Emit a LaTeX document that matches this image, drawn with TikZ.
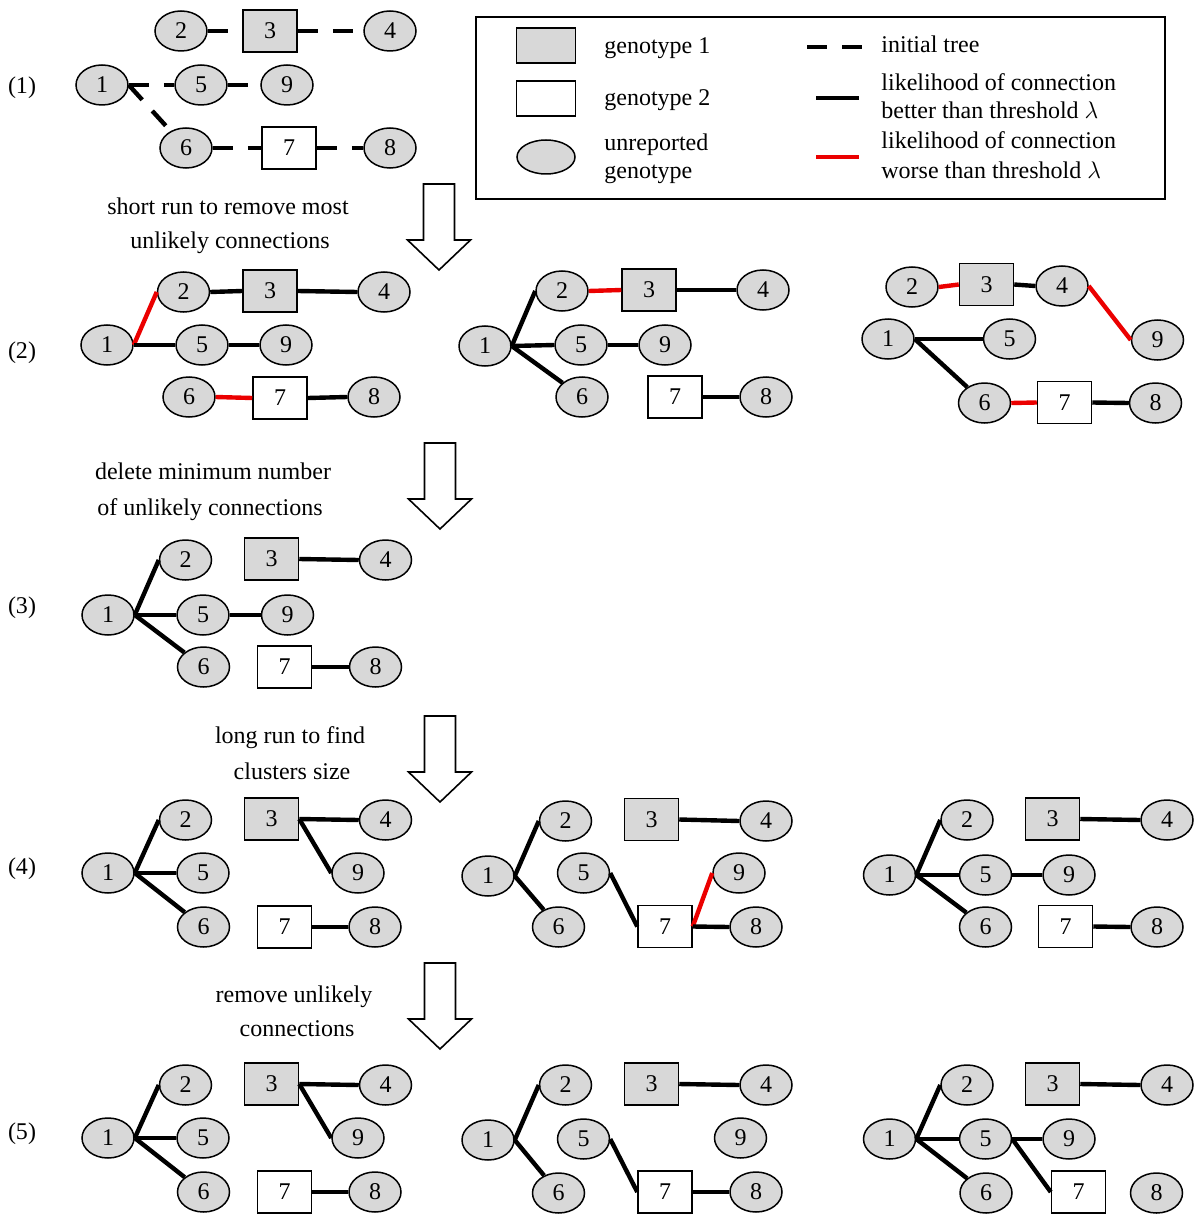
\documentclass[tikz,border=0pt]{standalone}
\usepackage{fontspec}
\setmainfont{Liberation Serif}
\usetikzlibrary{shapes.geometric}
\definecolor{nodegray}{RGB}{216,216,216}
\definecolor{edgered}{RGB}{235,0,0}
\newcommand\blockarrow[2]{\draw[arrowbox] (#1-15.5,#2) -- (#1+15.5,#2) -- (#1+15.5,#2+56) -- (#1+31.5,#2+56) -- (#1,#2+86) -- (#1-31.5,#2+56) -- (#1-15.5,#2+56) -- cycle;}
\begin{document}
\begin{tikzpicture}[x=0.5pt,y=-0.5pt,
  every node/.style={font=\fontsize{12}{14}\selectfont},
  ell/.style={ellipse, draw, fill=nodegray, line width=0.75pt, minimum width=26pt, minimum height=20pt, inner sep=0pt},
  gone/.style={rectangle, draw, fill=nodegray, line width=0.75pt, minimum width=27pt, minimum height=21pt, inner sep=0pt},
  gtwo/.style={rectangle, draw, fill=white, line width=0.75pt, minimum width=27pt, minimum height=21pt, inner sep=0pt},
  good/.style={line width=2.2pt},
  bad/.style={line width=2.2pt, draw=edgered},
  init/.style={line width=2.2pt, dash pattern=on 10pt off 7.5pt},
  lbl/.style={inner sep=0pt, text height=8.5pt, text depth=2.5pt},
  arrowbox/.style={draw, fill=white, line width=0.8pt, line join=miter},
]
\useasboundingbox (0,0) rectangle (1196,1214);

% row labels
\node[lbl] (r1) at (22,88) {(1)};
\node[lbl] (r2) at (22,352) {(2)};
\node[lbl] (r3) at (22,607) {(3)};
\node[lbl] (r4) at (22,868) {(4)};
\node[lbl] (r5) at (22,1133) {(5)};

% step texts
\node[lbl] (t1a) at (228,208) {short run to remove most};
\node[lbl] (t1b) at (230,243) {unlikely connections};
\node[lbl] (t2a) at (213,473) {delete minimum number};
\node[lbl] (t2b) at (210,509) {of unlikely connections};
\node[lbl] (t3a) at (290,737) {long run to find};
\node[lbl] (t3b) at (292,773) {clusters size};
\node[lbl] (t4a) at (294,996) {remove unlikely};
\node[lbl] (t4b) at (297,1030) {connections};

% block arrows
\blockarrow{439}{184}
\blockarrow{440}{443}
\blockarrow{440}{716}
\blockarrow{440}{963}

% legend
\draw[line width=0.9pt] (476,17) rectangle (1165,199);
\node[gone, minimum width=29.5pt, minimum height=17.5pt] (lg1) at (546,45.5) {};
\node[gtwo, minimum width=29.5pt, minimum height=17.5pt] (lg2) at (546,98.5) {};
\node[ell, minimum width=29pt, minimum height=17pt] (lg3) at (546,157) {};
\node[lbl, anchor=west] (lt1) at (604,48) {genotype 1};
\node[lbl, anchor=west] (lt2) at (604,100) {genotype 2};
\node[lbl, anchor=west] (lt3) at (604,145) {unreported};
\node[lbl, anchor=west] (lt4) at (604,173) {genotype};
\node[lbl, anchor=west] (lt5) at (881,47) {initial tree};
\node[lbl, anchor=west] (lt6) at (881,85) {likelihood of connection};
\node[lbl, anchor=west] (lt7) at (881,113) {better than threshold $\lambda$};
\node[lbl, anchor=west] (lt8) at (881,143) {likelihood of connection};
\node[lbl, anchor=west] (lt9) at (881,173) {worse than threshold $\lambda$};
\draw[init] (807,47) -- (863,47);
\draw[good] (816,98) -- (859,98);
\draw[bad] (816,157) -- (859,157);

% ---- panel (1)
\node[ell] (a2) at (181,31) {2};
\node[gone] (a3) at (270,31) {3};
\node[ell] (a4) at (390,31) {4};
\node[ell] (a1) at (102,85) {1};
\node[ell] (a5) at (201,85) {5};
\node[ell] (a9) at (287,85) {9};
\node[ell] (a6) at (186,148) {6};
\node[gtwo] (a7) at (289,148) {7};
\node[ell] (a8) at (390,148) {8};
\draw[init] (a2.east) -- (a3.west);
\draw[init] (a3.east) -- (a4.west);
\draw[init] (a1.east) -- (a5.west);
\draw[init] (a5.east) -- (a9.west);
\draw[init] (a1.east) -- (a6);
\draw[init] (a6.east) -- (a7.west);
\draw[init] (a7.east) -- (a8.west);

% ---- panel (2) left
\node[ell] (b2) at (183.5,292) {2};
\node[gone] (b3) at (270,291) {3};
\node[ell] (b4) at (384,292) {4};
\node[ell] (b1) at (107,345) {1};
\node[ell] (b5) at (202,345) {5};
\node[ell] (b9) at (286,345) {9};
\node[ell] (b6) at (189,397) {6};
\node[gtwo] (b7) at (280,398) {7};
\node[ell] (b8) at (374,397) {8};
\draw[bad] (b1.east) -- (b2.west);
\draw[good] (b1.east) -- (b5.west);
\draw[good] (b2.east) -- (b3.west);
\draw[good] (b3.east) -- (b4.west);
\draw[good] (b5.east) -- (b9.west);
\draw[bad] (b6.east) -- (b7.west);
\draw[good] (b7.east) -- (b8.west);

% ---- panel (2) middle
\node[ell] (c1) at (485,346) {1};
\node[ell] (c2) at (562,291) {2};
\node[gone] (c3) at (649,290) {3};
\node[ell] (c4) at (763,290) {4};
\node[ell] (c5) at (581,345) {5};
\node[ell] (c9) at (665,345) {9};
\node[ell] (c6) at (582,397) {6};
\node[gtwo] (c7) at (675,397) {7};
\node[ell] (c8) at (766,397) {8};
\draw[good] (c1.east) -- (c2.west);
\draw[good] (c1.east) -- (c5.west);
\draw[good] (c1.east) -- (c6);
\draw[bad] (c2.east) -- (c3.west);
\draw[good] (c3.east) -- (c4.west);
\draw[good] (c5.east) -- (c9.west);
\draw[good] (c7.east) -- (c8.west);

% ---- panel (2) right
\node[ell] (d2) at (912,287) {2};
\node[gone] (d3) at (986.5,284.5) {3};
\node[ell] (d4) at (1062,286) {4};
\node[ell] (d9) at (1157.5,340) {9};
\node[ell] (d1) at (888,339) {1};
\node[ell] (d5) at (1009.5,339) {5};
\node[ell] (d6) at (984.5,403) {6};
\node[gtwo] (d7) at (1064.5,402.5) {7};
\node[ell] (d8) at (1155.5,403) {8};
\draw[bad] (d2.east) -- (d3.west);
\draw[good] (d3.east) -- (d4.west);
\draw[bad] (d4.east) -- (d9.west);
\draw[good] (d1.east) -- (d5.west);
\draw[good] (d1.east) -- (d6);
\draw[bad] (d6.east) -- (d7.west);
\draw[good] (d7.east) -- (d8.west);

% ---- panel (3)
\node[ell] (e2) at (185.5,560) {2};
\node[gone] (e3) at (271.5,559) {3};
\node[ell] (e4) at (385.5,560) {4};
\node[ell] (e1) at (108,615) {1};
\node[ell] (e5) at (203,615) {5};
\node[ell] (e9) at (287.5,615) {9};
\node[ell] (e6) at (203.5,667) {6};
\node[gtwo] (e7) at (284.5,667) {7};
\node[ell] (e8) at (375.5,667) {8};
\draw[good] (e1.east) -- (e2.west);
\draw[good] (e1.east) -- (e5.west);
\draw[good] (e1.east) -- (e6);
\draw[good] (e3.east) -- (e4.west);
\draw[good] (e5.east) -- (e9.west);
\draw[good] (e7.east) -- (e8.west);

% ---- panel (4) left
\node[ell] (f2) at (185.5,820) {2};
\node[gone] (f3) at (271.5,819) {3};
\node[ell] (f4) at (385.5,820) {4};
\node[ell] (f1) at (108,873) {1};
\node[ell] (f5) at (203,873) {5};
\node[ell] (f9) at (358,873) {9};
\node[ell] (f6) at (203.5,927) {6};
\node[gtwo] (f7) at (284.5,927) {7};
\node[ell] (f8) at (375,927) {8};
\draw[good] (f1.east) -- (f2.west);
\draw[good] (f1.east) -- (f5.west);
\draw[good] (f1.east) -- (f6);
\draw[good] (f3.east) -- (f4.west);
\draw[good] (f3.east) -- (f9.west);
\draw[good] (f7.east) -- (f8.west);

% ---- panel (4) middle
\node[ell] (g2) at (565.5,821) {2};
\node[gone] (g3) at (651.5,819.5) {3};
\node[ell] (g4) at (766,821) {4};
\node[ell] (g1) at (488,876) {1};
\node[ell] (g5) at (583.5,873) {5};
\node[ell] (g9) at (739,873) {9};
\node[ell] (g6) at (558.5,927) {6};
\node[gtwo] (g7) at (665,926.5) {7};
\node[ell] (g8) at (756,927) {8};
\draw[good] (g1.east) -- (g2.west);
\draw[good] (g1.east) -- (g6);
\draw[good] (g3.east) -- (g4.west);
\draw[good] (g5.east) -- (g7.west);
\draw[bad] (g7.east) -- (g9.west);
\draw[good] (g7.east) -- (g8.west);

% ---- panel (4) right
\node[ell] (h2) at (967,820) {2};
\node[gone] (h3) at (1052.5,819) {3};
\node[ell] (h4) at (1167,820) {4};
\node[ell] (h1) at (889.5,875) {1};
\node[ell] (h5) at (985.5,875) {5};
\node[ell] (h9) at (1069,875) {9};
\node[ell] (h6) at (985.5,927) {6};
\node[gtwo] (h7) at (1065.5,926.5) {7};
\node[ell] (h8) at (1157,927) {8};
\draw[good] (h1.east) -- (h2.west);
\draw[good] (h1.east) -- (h5.west);
\draw[good] (h1.east) -- (h6);
\draw[good] (h3.east) -- (h4.west);
\draw[good] (h5.east) -- (h9.west);
\draw[good] (h7.east) -- (h8.west);

% ---- panel (5) left
\node[ell] (i2) at (185.5,1085) {2};
\node[gone] (i3) at (271.5,1084) {3};
\node[ell] (i4) at (385.5,1085) {4};
\node[ell] (i1) at (108,1138) {1};
\node[ell] (i5) at (203,1138) {5};
\node[ell] (i9) at (358,1138) {9};
\node[ell] (i6) at (203.5,1192) {6};
\node[gtwo] (i7) at (284.5,1192) {7};
\node[ell] (i8) at (375,1192) {8};
\draw[good] (i1.east) -- (i2.west);
\draw[good] (i1.east) -- (i5.west);
\draw[good] (i1.east) -- (i6);
\draw[good] (i3.east) -- (i4.west);
\draw[good] (i3.east) -- (i9.west);
\draw[good] (i7.east) -- (i8.west);

% ---- panel (5) middle
\node[ell] (j2) at (565.5,1085) {2};
\node[gone] (j3) at (651.5,1084) {3};
\node[ell] (j4) at (766,1085) {4};
\node[ell] (j1) at (488,1140) {1};
\node[ell] (j5) at (583.5,1139) {5};
\node[ell] (j9) at (740.5,1138) {9};
\node[ell] (j6) at (558.5,1193) {6};
\node[gtwo] (j7) at (665,1192) {7};
\node[ell] (j8) at (756,1192) {8};
\draw[good] (j1.east) -- (j2.west);
\draw[good] (j1.east) -- (j6);
\draw[good] (j3.east) -- (j4.west);
\draw[good] (j5.east) -- (j7.west);
\draw[good] (j7.east) -- (j8.west);

% ---- panel (5) right
\node[ell] (k2) at (967,1085) {2};
\node[gone] (k3) at (1052.5,1084) {3};
\node[ell] (k4) at (1167,1085) {4};
\node[ell] (k1) at (889.5,1139) {1};
\node[ell] (k5) at (985.5,1139) {5};
\node[ell] (k9) at (1069,1139) {9};
\node[ell] (k6) at (986,1193) {6};
\node[gtwo] (k7) at (1078.5,1192) {7};
\node[ell] (k8) at (1156.5,1193) {8};
\draw[good] (k1.east) -- (k2.west);
\draw[good] (k1.east) -- (k5.west);
\draw[good] (k1.east) -- (k6);
\draw[good] (k3.east) -- (k4.west);
\draw[good] (k5.east) -- (k9.west);
\draw[good] (k5.east) -- (k7.west);
\end{tikzpicture}
\end{document}
